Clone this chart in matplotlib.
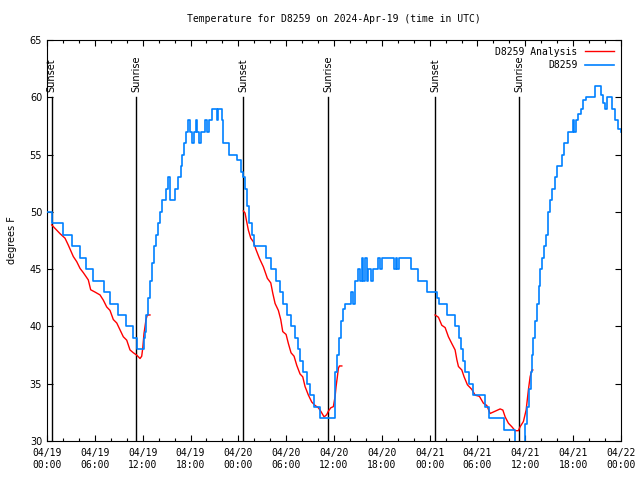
import numpy as np
import matplotlib
matplotlib.use('Agg')
from matplotlib import pyplot as plt
from matplotlib.ticker import MultipleLocator

# hours since 04/19 00:00 UTC
obs_hours = [0.0, 0.59, 2.01, 3.1, 4.14, 4.89, 5.71, 7.09, 7.9, 8.85, 9.85, 10.73, 11.29,
             12.17, 12.3, 12.48, 12.67, 12.92, 13.17, 13.36, 13.61, 13.93, 14.12, 14.37,
             14.93, 15.18, 15.43, 16.06, 16.37, 16.81, 16.94, 17.19, 17.38, 17.63, 17.94,
             18.13, 18.38, 18.63, 18.82, 19.07, 19.32, 19.76, 20.08, 20.26, 20.64, 21.27,
             21.46, 21.89, 22.02, 22.77, 23.84, 24.34, 24.59, 24.84, 25.09, 25.35, 25.66,
             25.97, 27.48, 28.11, 28.73, 29.17, 29.55, 30.11, 30.61, 31.05, 31.43, 31.74,
             32.12, 32.56, 33.0, 33.5, 34.19, 36.14, 36.32, 36.57, 36.89, 37.14, 37.39,
             38.08, 38.39, 38.64, 39.02, 39.27, 39.46, 39.65, 39.84, 40.09, 40.28, 40.65,
             40.9, 41.53, 41.78, 41.97, 43.54, 43.73, 43.91, 44.1, 45.63, 46.59, 47.62,
             48.93, 49.12, 50.13, 51.13, 51.69, 51.94, 52.13, 52.45, 52.89, 53.45, 54.96,
             55.4, 57.34, 58.66, 59.97, 60.23, 60.48, 60.66, 60.85, 60.98, 61.23, 61.42,
             61.67, 61.86, 62.11, 62.36, 62.61, 62.86, 63.11, 63.36, 63.74, 63.99, 64.55,
             64.87, 65.37, 65.93, 66.12, 66.31, 66.62, 66.94, 67.25, 67.63, 68.69, 69.51,
             69.76, 70.01, 70.26, 70.89, 71.27, 71.64, 72.0]
obs_temp = [50, 49, 48, 47, 46, 45, 44, 43, 42, 41, 40, 39, 38,
            39, 39.5, 41, 42.5, 44, 45.5, 47, 48, 49, 50, 51,
            52, 53, 51, 52, 53, 54, 55, 56, 57, 58, 57,
            56, 57, 58, 57, 56, 57, 58, 57, 58, 59, 58,
            59, 58, 56, 55, 54.5, 53.5, 53, 52, 50.5, 49, 48,
            47, 46, 45, 44, 43, 42, 41, 40, 39, 38, 37,
            36, 35, 34, 33, 32, 36, 37.5, 39, 40.5, 41.5, 42,
            43, 42, 44, 45, 44, 46, 44, 46, 44, 45, 44,
            45, 46, 45, 46, 45, 46, 45, 46, 45, 44, 43,
            42.5, 42, 41, 40, 39, 38, 37, 36, 35, 34, 33,
            32, 31, 29, 31.5, 33, 34.5, 36, 37.5, 39, 40.5, 42,
            43.5, 45, 46, 47, 48, 50, 51, 52, 53, 54, 55,
            56, 57, 58, 57, 58, 58.5, 59, 59.8, 60, 61, 60.2,
            59.5, 59, 60, 59, 58, 57.2, 57]

ana_hours = [0.59, 1.22, 1.63, 2.26, 2.67, 3.3, 3.73, 4.14, 4.55, 5.18, 5.48, 6.02, 6.65,
             7.06, 7.49, 7.9, 8.32, 8.75, 9.16, 9.57, 10.0, 10.41, 10.83, 11.25, 11.67,
             11.88, 12.01, 12.17, 12.42, 12.58, 12.92, np.nan,
             24.63, 24.84, 25.06, 25.26, 25.56, 25.88, 26.22, 26.64, 27.14, 27.64, 28.07,
             28.32, 28.61, 29.02, 29.32, 29.57, 29.99, 30.28, 30.61, 30.99, 31.33, 31.74,
             32.08, 32.37, 32.79, 33.21, 33.63, 34.04, 34.34, 34.76, 35.09, 35.29, 35.6,
             35.92, 36.14, 36.26, 36.42, 36.55, 36.68, 36.98, np.nan,
             48.68, 49.1, 49.52, 49.94, 50.35, 50.78, 51.19, 51.41, 51.61, 52.03, 52.32,
             52.74, 53.29, 53.7, 54.24, 54.74, 55.17, 55.58, 56.21, 56.84, 57.18, 57.47,
             57.88, 58.3, 58.72, 59.13, 59.35, 59.76, 60.1, 60.39, 60.6, 60.82, 60.94]
ana_temp = [48.86, 48.4, 48.1, 47.7, 47.1, 46.1, 45.65, 45.07, 44.7, 44.06, 43.2, 43.0, 42.75,
            42.3, 41.7, 41.4, 40.6, 40.3, 39.7, 39.1, 38.8, 37.95, 37.7, 37.5, 37.2,
            37.4, 38.1, 39.4, 40.6, 41.0, 41.0, np.nan,
            50.08, 49.9, 49.1, 48.4, 47.7, 47.4, 46.7, 45.95, 45.2, 44.2, 43.8,
            42.9, 42.0, 41.4, 40.6, 39.55, 39.3, 38.5, 37.7, 37.4, 36.6, 35.85,
            35.6, 34.75, 34.0, 33.4, 33.1, 32.9, 32.6, 32.1, 32.3, 32.6, 32.9,
            33.0, 33.9, 34.75, 35.6, 36.35, 36.55, 36.55, np.nan,
            41.0, 40.8, 40.1, 39.9, 39.1, 38.5, 37.95, 37.1, 36.5, 36.2, 35.6,
            34.9, 34.5, 34.0, 33.9, 33.3, 33.1, 32.4, 32.6, 32.8, 32.7, 32.1,
            31.55, 31.25, 30.9, 30.9, 31.25, 31.7, 32.7, 34.5, 35.6, 36.2, 36.2]

sun_hours = [0.59, 11.2, 24.63, 35.29, 48.68, 59.22]
sun_labels = ['Sunset', 'Sunrise', 'Sunset', 'Sunrise', 'Sunset', 'Sunrise']

tick_hours = list(range(0, 73, 6))
tick_labels = ['04/19\n00:00', '04/19\n06:00', '04/19\n12:00', '04/19\n18:00',
               '04/20\n00:00', '04/20\n06:00', '04/20\n12:00', '04/20\n18:00',
               '04/21\n00:00', '04/21\n06:00', '04/21\n12:00', '04/21\n18:00',
               '04/22\n00:00']

mono = 'DejaVu Sans Mono'

fig = plt.figure(figsize=(6.4, 4.8), dpi=100)
ax = fig.add_axes([47 / 640, 1 - 441 / 480, 574 / 640, 401 / 480])

for h, lab in zip(sun_hours, sun_labels):
    ax.plot([h, h], [30, 60], color='black', lw=1.0, zorder=1)
    ax.text(h, 60.5, lab, rotation=90, ha='center', va='bottom', fontsize=7, zorder=1)

ax.plot(ana_hours, ana_temp, color='#ff0000', lw=1.0, label='D8259 Analysis', zorder=2)
ax.plot(obs_hours, obs_temp, color='#0080ff', lw=1.2, drawstyle='steps-post',
        label='D8259', zorder=3)

ax.set_xlim(0, 72)
ax.set_ylim(30, 65)
ax.set_xticks(tick_hours)
ax.set_xticklabels(tick_labels, fontsize=7, family=mono)
ax.xaxis.set_minor_locator(MultipleLocator(2))
ax.set_yticks(range(30, 66, 5))
ax.tick_params(axis='y', labelsize=7)
ax.tick_params(which='both', direction='in', top=True, right=True, width=0.8)
ax.tick_params(which='major', length=4.5)
ax.tick_params(which='minor', length=2.5)
ax.tick_params(axis='x', pad=5)
for s in ax.spines.values():
    s.set_linewidth(0.8)

ax.set_ylabel('degrees F', fontsize=7, labelpad=9)
ax.set_title('Temperature for D8259 on 2024-Apr-19 (time in UTC)', fontsize=7,
             family=mono, pad=13)

ax.legend(loc='upper right', frameon=False, markerfirst=False, handlelength=3.0,
          handletextpad=0.8, labelspacing=0.35, borderaxespad=0.3,
          prop={'family': mono, 'size': 7})

plt.savefig('out.png', dpi=100)
